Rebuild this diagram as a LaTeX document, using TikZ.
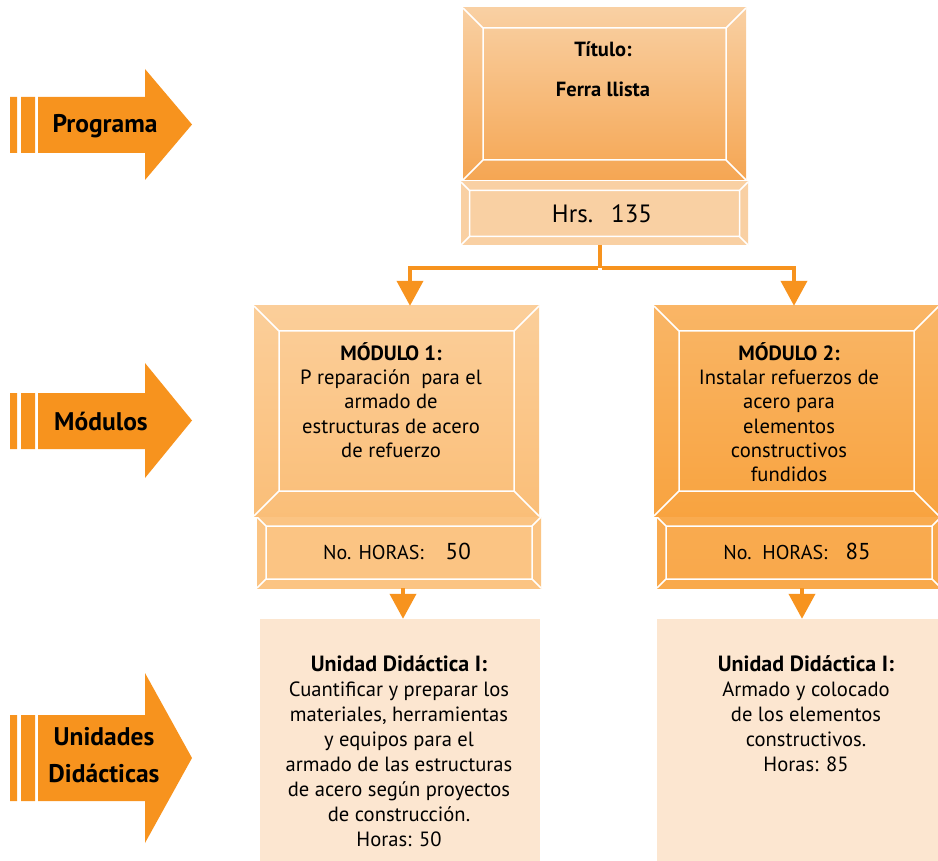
\documentclass[tikz,border=0pt]{standalone}
\usepackage{fontspec}
\setmainfont{PT Sans}
\usetikzlibrary{arrows.meta,positioning}
\definecolor{naranja}{HTML}{F7931E}
\definecolor{crema}{HTML}{FCE6D0}
\definecolor{durazno}{HTML}{F9D0A3}
\definecolor{titfondo}{HTML}{F5A653}
\newcommand{\fs}[2]{\fontsize{#1}{#2}\selectfont}
% bevel lines inside a box
\newcommand{\bisel}[1]{%
  \draw[white,line width=1.5pt]
    ([xshift=#1pt,yshift=-#1pt]path picture bounding box.north west) rectangle
    ([xshift=-#1pt,yshift=#1pt]path picture bounding box.south east)
    (path picture bounding box.north west) -- ++( #1,-#1)
    (path picture bounding box.north east) -- ++(-#1,-#1)
    (path picture bounding box.south west) -- ++( #1, #1)
    (path picture bounding box.south east) -- ++(-#1, #1);}
% side arrow: body top, body bottom, head top, head bottom, tip
\newcommand{\flechaizq}[5]{%
  \fill[naranja] (10,-#1) rectangle (17,-#2) (21,-#1) rectangle (35,-#2)
    (38,-#1) -- (145,-#1) -- (145,-#3) -- (192,-#5) -- (145,-#4)
    -- (145,-#2) -- (38,-#2) -- cycle;}

\begin{document}
\begin{tikzpicture}[x=1pt,y=1pt,
  marco/.style n args={3}{rectangle, inner sep=0pt, top color=#1,
    bottom color=#2, path picture={\bisel{#3}}},
  unidad/.style={rectangle, inner sep=0pt, fill=crema},
  etiqueta/.style={align=center, font=\fs{25.5}{37}\bfseries},
  texto/.style={align=center, font=\fs{20.6}{24.3}, inner sep=0pt},
  flecha/.style={draw=naranja, line width=4pt,
    -{Triangle[width=26pt,length=25pt]}}]
  \useasboundingbox (0,0) rectangle (938,-861);

  % left arrows
  \flechaizq{97}{153}{69}{180}{124.5}
  \flechaizq{393}{449}{363}{478}{420.5}
  \flechaizq{715}{801}{673}{843}{758}
  \node[etiqueta] (programa) at (105,-126) {Programa};
  \node[etiqueta] (modulos)  at (101,-421) {Módulos};
  \node[etiqueta] (unidades) at (104,-755) {Unidades\\Didácticas};

  % boxes
  \node[marco={durazno}{titfondo}{20},
    minimum width=283pt, minimum height=172pt] (titulo) at (604.5,-94) {};
  \node[marco={durazno}{durazno}{8.5},
    minimum width=287pt, minimum height=63pt] (hrs) at (604.5,-213.5) {};
  \node[marco={naranja!45}{naranja!60}{25},
    minimum width=285pt, minimum height=210pt] (m1) at (396.5,-411) {};
  \node[marco={naranja!55}{naranja!55}{9},
    minimum width=284pt, minimum height=71pt] (m1h) at (399,-552.5) {};
  \node[marco={naranja!68}{naranja!85}{25},
    minimum width=285pt, minimum height=210pt] (m2) at (796.5,-411) {};
  \node[marco={naranja!78}{naranja!80}{9},
    minimum width=284pt, minimum height=71pt] (m2h) at (799,-552.5) {};
  \node[unidad, minimum width=280pt, minimum height=243pt] (ud1) at (400,-740.5) {};
  \node[unidad, minimum width=283pt, minimum height=243pt] (ud2) at (798.5,-740.5) {};

  % texts
  \node[texto, font=\fs{20.5}{40}\bfseries] (tit) at (603,-69) {Título:\\Ferra llista};
  \node[texto, font=\fs{25}{30}] (hrstxt) at (602,-214) {Hrs.\hspace{18pt}135};
  \node[texto, anchor=north] (m1txt) at (391,-342)
    {\textbf{MÓDULO 1:}\\P reparación\ \ para el\\armado de\\estructuras de acero\\de refuerzo};
  \node[texto, anchor=north] (m2txt) at (789,-342)
    {\textbf{MÓDULO 2:}\\Instalar refuerzos de\\acero para\\elementos\\constructivos\\fundidos};
  \node[texto, font=\fs{20}{24}] (m1htxt) at (397,-551)
    {No. HORAS:\hspace{22pt}{\fs{23}{24}50}};
  \node[texto, font=\fs{20}{24}] (m2htxt) at (797,-551)
    {No.\ \ HORAS:\hspace{18pt}{\fs{23}{24}85}};
  \node[texto, font=\fs{20.6}{25}, anchor=north] (ud1txt) at (399,-655)
    {{\fs{22}{25}\bfseries Unidad Didáctica I:}\\Cuantificar y preparar los\\materiales, herramientas\\y equipos para el\\armado de las estructuras\\de acero según proyectos\\de construcción.\\Horas: 50};
  \node[texto, font=\fs{20.6}{25}, anchor=north] (ud2txt) at (806,-655)
    {{\fs{22}{25}\bfseries Unidad Didáctica I:}\\Armado y colocado\\de los elementos\\constructivos.\\Horas: 85};

  % connectors
  \draw[naranja, line width=4pt] ([xshift=-4.5pt]hrs.south) -- ++(0,-23) coordinate (rama);
  \draw[flecha] ([xshift=-2pt]rama) -| ([xshift=13.5pt]m1.north);
  \draw[flecha] ([xshift=2pt]rama) -| ([xshift=-2.5pt]m2.north);
  \draw[flecha] ([xshift=4pt]m1h.south) -- ([xshift=3pt]ud1.north);
  \draw[flecha] ([xshift=3pt]m2h.south) -- ([xshift=3.5pt]ud2.north);
\end{tikzpicture}
\end{document}
